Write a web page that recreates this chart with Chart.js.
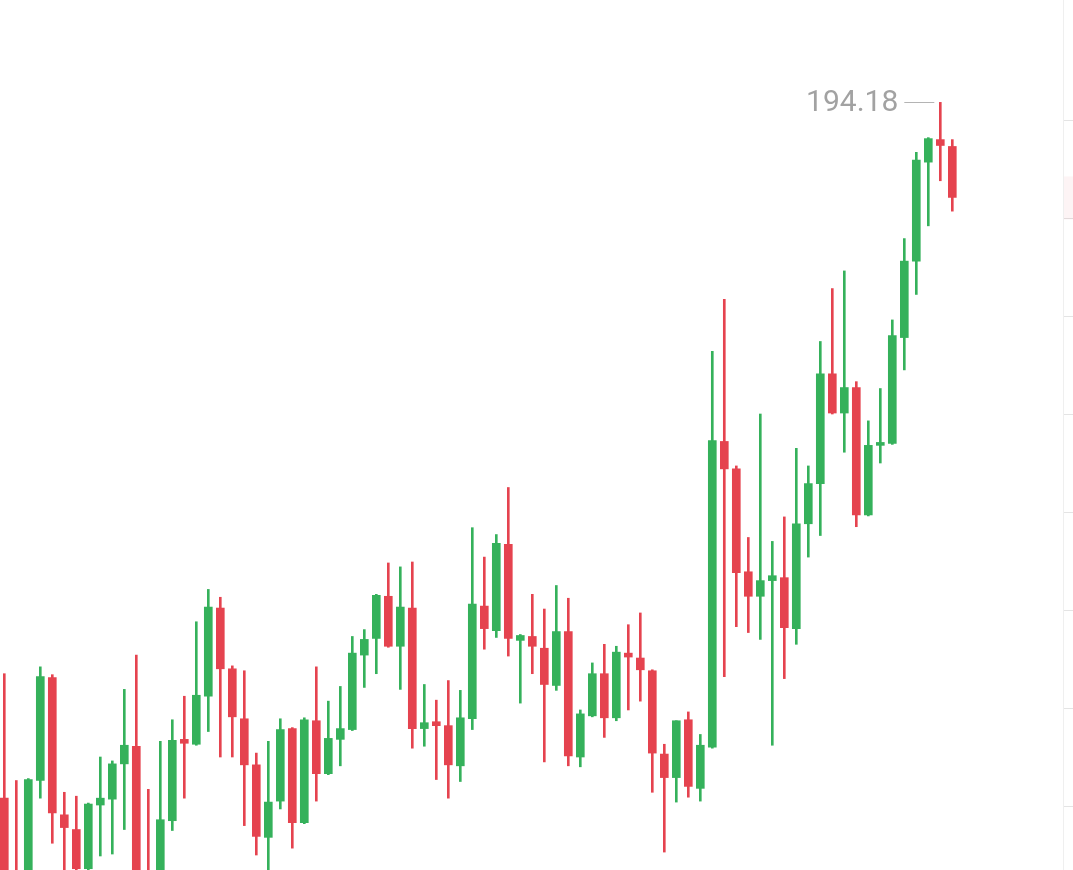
<!DOCTYPE html>
<html>
<head>
<meta charset="utf-8">
<script src="https://cdn.jsdelivr.net/npm/chart.js@4.4.1/dist/chart.umd.min.js"></script>
<style>
  html, body { margin: 0; padding: 0; background: #fff; }
  canvas { display: block; }
</style>
</head>
<body>
<canvas id="velas" width="1073" height="870"></canvas>
<script>
// sessions shown in the picture (left is partly cut off)
const sessions = ['1','2','3','4','5','6','7','8','9','10','11','12','13','14','15','16','17','18','19','20',
  '21','22','23','24','25','26','27','28','29','30','31','32','33','34','35','36','37','38','39','40',
  '41','42','43','44','45','46','47','48','49','50','51','52','53','54','55','56','57','58','59','60',
  '61','62','63','64','65','66','67','68','69','70','71','72','73','74','75','76','77','78','79','80'];

const opens = [187.08,186.30,186.24,187.26,188.31,186.91,186.76,186.36,187.01,187.07,
  187.43,187.61,186.30,186.24,186.85,187.68,187.63,188.12,189.02,188.40,
  187.89,187.42,186.68,187.05,187.79,186.83,187.87,187.33,187.68,187.78,
  188.54,188.71,189.14,188.63,189.02,187.79,187.86,187.82,187.41,187.89,
  189.04,188.79,189.67,188.69,188.73,188.61,188.23,188.78,187.50,187.92,
  188.35,187.90,188.56,188.51,188.38,187.53,187.29,187.88,187.18,187.60,
  190.72,190.44,189.39,189.14,189.30,189.33,188.81,189.88,190.29,191.41,
  191.01,191.27,189.97,190.68,190.70,191.78,192.56,193.57,193.80,193.73];

const highs = [188.35,187.26,187.28,188.42,188.34,187.14,187.10,187.03,187.50,187.46,
  188.19,188.54,187.17,187.66,187.88,188.12,188.88,189.21,189.13,188.43,
  188.38,187.54,187.66,187.89,187.80,187.90,188.42,188.07,188.22,188.73,
  188.80,189.16,189.48,189.44,189.49,188.24,188.08,188.28,188.18,189.84,
  189.54,189.77,190.25,188.75,189.16,189.01,189.25,189.12,187.98,188.46,
  188.65,188.63,188.85,188.97,188.39,187.63,187.87,187.96,187.73,191.64,
  192.17,190.47,189.74,191.00,189.70,189.95,190.65,190.47,191.74,192.28,
  192.46,191.33,190.93,191.26,191.96,192.79,193.67,193.82,194.18,193.80];

const lows = [186.04,186.04,186.14,187.08,186.62,186.30,186.33,186.33,186.49,186.51,
  186.76,186.14,186.09,186.14,186.75,187.08,187.62,187.76,187.50,187.50,
  186.80,186.50,186.33,186.97,186.57,186.82,187.05,187.32,187.41,187.77,
  188.21,188.35,188.62,188.19,187.59,187.61,187.27,187.08,187.25,187.78,
  188.60,188.72,188.53,188.05,188.35,187.45,188.18,187.41,187.40,187.91,
  187.70,187.87,187.98,188.07,187.14,186.53,187.04,187.09,187.05,187.59,
  188.32,188.83,188.77,188.70,187.62,188.30,188.65,189.54,189.76,191.00,
  190.61,189.85,189.96,190.50,190.69,191.45,192.22,192.92,193.38,193.07];

const closes = [186.19,186.14,187.27,188.32,186.93,186.78,186.36,187.02,187.08,187.43,
  187.62,186.24,186.19,186.86,187.67,187.64,188.13,189.03,188.40,187.91,
  187.42,186.69,187.04,187.78,186.83,187.88,187.33,187.69,187.79,188.56,
  188.70,189.15,188.63,189.03,187.79,187.85,187.82,187.42,187.90,189.06,
  188.81,189.68,188.71,188.74,188.63,188.24,188.78,187.51,187.94,188.35,
  187.90,188.57,188.52,188.39,187.54,187.29,187.87,187.20,187.62,190.73,
  190.44,189.38,189.14,189.30,189.35,188.82,189.88,190.29,191.41,191.01,
  191.27,189.97,190.68,190.71,191.80,192.56,193.59,193.81,193.74,193.21];

// right edge ticks (labels fall outside the picture)
const priceTicks = [187, 188, 189, 190, 191, 192, 193, 194];
const axisMin = 186.347;
const axisMax = 195.2245;

const up = '#35b15b';
const down = '#e5434f';

window.addEventListener('DOMContentLoaded', () => {
  const ctx = document.getElementById('velas').getContext('2d');

  const colors = opens.map((o, i) => closes[i] >= o ? up : down);
  const wicks = lows.map((l, i) => [l, highs[i]]);
  const bodies = opens.map((o, i) => [o, closes[i]]);

  const extras = {
    id: 'extras',
    afterDatasetsDraw(chart) {
      const c = chart.ctx;
      const x = chart.scales.x;
      const y = chart.scales.y;
      c.save();

      // faint price axis strip on the right
      c.strokeStyle = '#efefef';
      c.lineWidth = 1;
      c.beginPath();
      c.moveTo(1063.5, 0);
      c.lineTo(1063.5, 870);
      c.stroke();
      c.strokeStyle = '#e4e4e4';
      priceTicks.forEach(v => {
        const ty = Math.round(y.getPixelForValue(v)) + 0.5;
        c.beginPath();
        c.moveTo(1064, ty);
        c.lineTo(1073, ty);
        c.stroke();
      });
      const lastY = y.getPixelForValue(closes[closes.length - 1]);
      c.fillStyle = 'rgba(229, 67, 79, 0.06)';
      c.fillRect(1064, lastY - 21, 9, 43);

      // highest high marker
      let iMax = 0;
      highs.forEach((v, i) => { if (v > highs[iMax]) iMax = i; });
      const px = x.getPixelForValue(iMax);
      const py = y.getPixelForValue(highs[iMax]);
      c.strokeStyle = '#b4b4b4';
      c.beginPath();
      c.moveTo(px - 36, Math.round(py) + 0.5);
      c.lineTo(px - 6, Math.round(py) + 0.5);
      c.stroke();
      c.fillStyle = '#a2a2a2';
      c.font = '30px Roboto';
      c.textAlign = 'right';
      c.textBaseline = 'middle';
      c.fillText(highs[iMax].toFixed(2), px - 42, py + 1);

      c.restore();
    }
  };

  new Chart(ctx, {
    type: 'bar',
    data: {
      labels: sessions,
      datasets: [{
        label: 'wick',
        data: wicks,
        backgroundColor: colors,
        borderWidth: 0,
        barThickness: 2,
        grouped: false,
        clip: false
      }, {
        label: 'body',
        data: bodies,
        backgroundColor: colors,
        borderWidth: 0,
        barThickness: 8,
        grouped: false,
        clip: false
      }]
    },
    options: {
      responsive: false,
      animation: false,
      layout: {
        padding: { left: 4.3, right: 120.7, top: 0, bottom: 0 }
      },
      plugins: {
        legend: { display: false },
        tooltip: { enabled: false }
      },
      scales: {
        x: {
          type: 'category',
          offset: false,
          display: false
        },
        y: {
          display: false,
          min: axisMin,
          max: axisMax
        }
      }
    },
    plugins: [extras]
  });
});
</script>
</body>
</html>
